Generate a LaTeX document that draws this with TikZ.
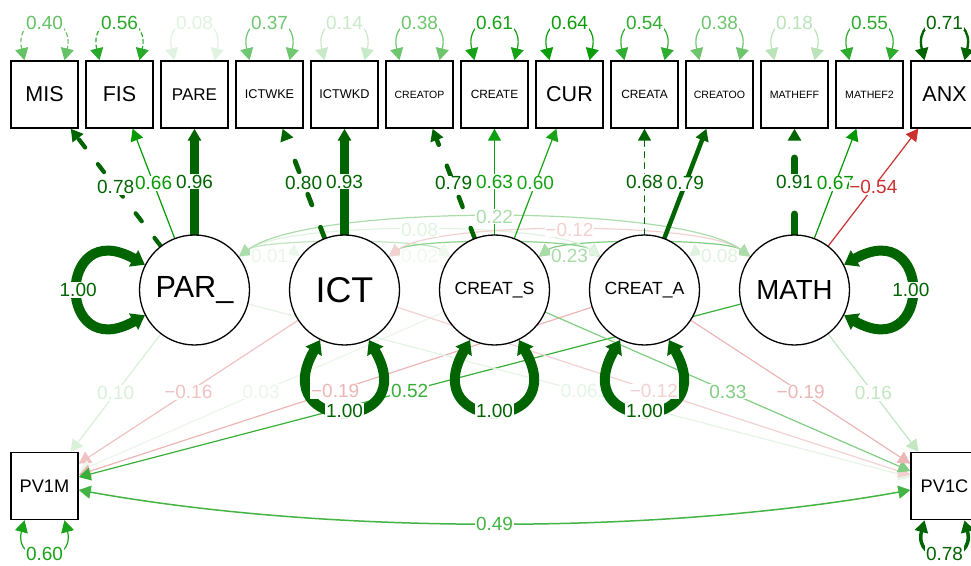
\documentclass[tikz,border=0pt]{standalone}
\usepackage{fontspec}
\setmainfont{Liberation Sans}
\usetikzlibrary{arrows.meta}
\pgfdeclarelayer{lablayer}
\pgfdeclarelayer{fg}
\pgfsetlayers{main,lablayer,fg}
\definecolor{gr}{RGB}{0,153,0}
\definecolor{rd}{RGB}{191,0,0}
\definecolor{dg}{RGB}{0,100,0}
\newcommand\fsz[1]{\fontsize{#1}{#1}\selectfont}
\newcommand\elab[3]{\node[lb=#2] at (#1) {#3};}
\tikzset{
  box/.style={draw=black, line width=1.4pt, fill=white, minimum width=67pt, minimum height=67pt, inner sep=0pt},
  lat/.style={draw=black, line width=1.3pt, fill=white, circle, minimum size=110pt, inner sep=0pt},
  ar1/.style={-{Triangle[length=12pt,width=13pt]}},
  ar2/.style={{Triangle[length=12pt,width=13pt]}-{Triangle[length=12pt,width=13pt]}},
  ar3/.style={{Triangle[length=13pt,width=18pt]}-{Triangle[length=13pt,width=18pt]}},
  pg/.style={draw=gr!#1!white, line width=1.2pt},
  ng/.style={draw=rd!#1!white, line width=1.2pt},
  dk/.style={draw=dg, line width=#1},
  lb/.style={fill=white, inner sep=0.8pt, text=#1, font=\fsz{19}},
}
\begin{document}
\begin{tikzpicture}[x=1pt,y=1pt,line cap=round]
\useasboundingbox (0,0) rectangle (971,565);
\fill[white] (0,0) rectangle (971,565);
\begin{pgfonlayer}{fg}
\node[box,font=\fsz{21.5}] (mis) at (44.5,470.5) {MIS};
\node[box,font=\fsz{21.5}] (fis) at (119.5,470.5) {FIS};
\node[box,font=\fsz{17}] (pare) at (194.5,470.5) {PARE};
\node[box,font=\fsz{12.7}] (ictwke) at (269.5,470.5) {ICTWKE};
\node[box,font=\fsz{12.7}] (ictwkd) at (344.5,470.5) {ICTWKD};
\node[box,font=\fsz{10.5}] (creatop) at (419.5,470.5) {CREATOP};
\node[box,font=\fsz{11.9}] (create) at (494.5,470.5) {CREATE};
\node[box,font=\fsz{21.5}] (cur) at (569.5,470.5) {CUR};
\node[box,font=\fsz{11.9}] (creata) at (644.5,470.5) {CREATA};
\node[box,font=\fsz{10.6}] (creatoo) at (719.5,470.5) {CREATOO};
\node[box,font=\fsz{10.6}] (matheff) at (794.5,470.5) {MATHEFF};
\node[box,font=\fsz{10.6}] (mathef2) at (869.5,470.5) {MATHEF2};
\node[box,font=\fsz{21.5}] (anx) at (944.5,470.5) {ANX};
\node[lat,font=\fsz{30.6}] (par) at (194.5,275) {PAR\_};
\node[lat,font=\fsz{35.8}] (ict) at (344.5,275) {ICT};
\node[lat,font=\fsz{17.6}] (cs) at (494.5,275) {CREAT\_S};
\node[lat,font=\fsz{17.6}] (ca) at (644.5,275) {CREAT\_A};
\node[lat,font=\fsz{27.6}] (math) at (794.5,275) {MATH};
\node[box,font=\fsz{18.2}] (pvm) at (44.5,79) {PV1M};
\node[box,font=\fsz{18.2}] (pvc) at (944.5,79) {PV1C};
\end{pgfonlayer}
% residual loops (top)
\draw[pg=60,ar2,dash pattern=on 4pt off 3pt] ([xshift=-20pt]mis.north) .. controls +(-12,50) and +(12,50) .. ([xshift=20pt]mis.north) coordinate[pos=.5] (r1);
\draw[pg=84,ar2,dash pattern=on 4pt off 3pt] ([xshift=-20pt]fis.north) .. controls +(-12,50) and +(12,50) .. ([xshift=20pt]fis.north) coordinate[pos=.5] (r2);
\draw[pg=12,ar2] ([xshift=-20pt]pare.north) .. controls +(-12,50) and +(12,50) .. ([xshift=20pt]pare.north) coordinate[pos=.5] (r3);
\draw[pg=55.5,ar2] ([xshift=-20pt]ictwke.north) .. controls +(-12,50) and +(12,50) .. ([xshift=20pt]ictwke.north) coordinate[pos=.5] (r4);
\draw[pg=21,ar2] ([xshift=-20pt]ictwkd.north) .. controls +(-12,50) and +(12,50) .. ([xshift=20pt]ictwkd.north) coordinate[pos=.5] (r5);
\draw[pg=57,ar2] ([xshift=-20pt]creatop.north) .. controls +(-12,50) and +(12,50) .. ([xshift=20pt]creatop.north) coordinate[pos=.5] (r6);
\draw[pg=91.5,ar2] ([xshift=-20pt]create.north) .. controls +(-12,50) and +(12,50) .. ([xshift=20pt]create.north) coordinate[pos=.5] (r7);
\draw[pg=96,ar2] ([xshift=-20pt]cur.north) .. controls +(-12,50) and +(12,50) .. ([xshift=20pt]cur.north) coordinate[pos=.5] (r8);
\draw[pg=81,ar2] ([xshift=-20pt]creata.north) .. controls +(-12,50) and +(12,50) .. ([xshift=20pt]creata.north) coordinate[pos=.5] (r9);
\draw[pg=57,ar2] ([xshift=-20pt]creatoo.north) .. controls +(-12,50) and +(12,50) .. ([xshift=20pt]creatoo.north) coordinate[pos=.5] (r10);
\draw[pg=27,ar2] ([xshift=-20pt]matheff.north) .. controls +(-12,50) and +(12,50) .. ([xshift=20pt]matheff.north) coordinate[pos=.5] (r11);
\draw[pg=82.5,ar2] ([xshift=-20pt]mathef2.north) .. controls +(-12,50) and +(12,50) .. ([xshift=20pt]mathef2.north) coordinate[pos=.5] (r12);
\draw[dk=2.4pt,ar2] ([xshift=-20pt]anx.north) .. controls +(-12,50) and +(12,50) .. ([xshift=20pt]anx.north) coordinate[pos=.5] (r13);
% residual loops (bottom)
\draw[pg=90,ar2] ([xshift=-20pt]pvm.south) .. controls +(-12,-45) and +(12,-45) .. ([xshift=20pt]pvm.south) coordinate[pos=.5] (r14);
\draw[dk=3.5pt,ar2] ([xshift=-20pt]pvc.south) .. controls +(-12,-45) and +(12,-45) .. ([xshift=20pt]pvc.south) coordinate[pos=.5] (r15);
% covariance PV1M - PV1C
\draw[pg=73.5,ar2,line width=1.5pt] ([yshift=-4pt]pvm.east) .. controls +(250,-45) and +(-250,-45) .. ([yshift=-4pt]pvc.west) coordinate[pos=.5] (q);
% covariances among latents
\draw[pg=25,ar2] (par) .. controls +(68.6,51.6) and +(-68.6,51.6) .. (cs);
\draw[pg=45,ar2] (ict) .. controls +(68.6,51.6) and +(-68.6,51.6) .. (ca);
\draw[pg=50,ar2] (cs) .. controls +(68.6,51.6) and +(-68.6,51.6) .. (math);
\draw[pg=8,ar2] (par) .. controls +(45.4,34.1) and +(-45.4,34.1) .. (ict) coordinate[pos=.5] (c1);
\draw[pg=6,ar2] (ict) .. controls +(45.4,34.1) and +(-45.4,34.1) .. (cs) coordinate[pos=.5] (c2);
\draw[pg=34.5,ar2] (cs) .. controls +(45.4,34.1) and +(-45.4,34.1) .. (ca) coordinate[pos=.5] (c3);
\draw[pg=12,ar2] (ca) .. controls +(45.4,34.1) and +(-45.4,34.1) .. (math) coordinate[pos=.5] (c4);
\draw[pg=12,ar2] (par) .. controls +(91.6,68.9) and +(-91.6,68.9) .. (ca) coordinate[pos=.5] (c5);
\draw[ng=18,ar2] (ict) .. controls +(91.6,68.9) and +(-91.6,68.9) .. (math) coordinate[pos=.5] (c6);
\draw[pg=33,ar2] (par) .. controls +(114.8,86.3) and +(-114.8,86.3) .. (math) coordinate[pos=.5] (c7);
% regressions
\draw[pg=15,ar1] (par) -- (pvm) coordinate[pos=.5] (p1);
\draw[ng=24,ar1] (ict) -- (pvm) coordinate[pos=.5] (p2);
\draw[pg=8,ar1] (cs) -- (pvm) coordinate[pos=.5] (p3);
\draw[ng=28.5,ar1] (ca) -- (pvm) coordinate[pos=.5] (p4);
\draw[pg=78,ar1] (math) -- (pvm) coordinate[pos=.5] (p5);
\draw[pg=10,ar1] (par) -- (pvc) coordinate[pos=.5] (p6);
\draw[ng=18,ar1] (ict) -- (pvc) coordinate[pos=.5] (p7);
\draw[pg=49.5,ar1] (cs) -- (pvc) coordinate[pos=.5] (p8);
\draw[ng=28.5,ar1] (ca) -- (pvc) coordinate[pos=.5] (p9);
\draw[pg=24,ar1] (math) -- (pvc) coordinate[pos=.5] (p10);
% loadings
\draw[dk=4.2pt,ar1,dash pattern=on 10pt off 21pt] (par) -- (mis) coordinate[pos=.5] (l1);
\draw[pg=99,ar1] (par) -- (fis) coordinate[pos=.5] (l2);
\draw[dk=9pt,ar1] (par) -- (pare) coordinate[pos=.5] (l3);
\draw[dk=4.8pt,ar1,dash pattern=on 11.5pt off 24pt] (ict) -- (ictwke) coordinate[pos=.5] (l4);
\draw[dk=8.2pt,ar1] (ict) -- (ictwkd) coordinate[pos=.5] (l5);
\draw[dk=4.5pt,ar1,dash pattern=on 10.8pt off 22.5pt] (cs) -- (creatop) coordinate[pos=.5] (l6);
\draw[pg=94.5,ar1] (cs) -- (create) coordinate[pos=.5] (l7);
\draw[pg=90,ar1] (cs) -- (cur) coordinate[pos=.5] (l8);
\draw[dk=1.6pt,ar1,dash pattern=on 5.4pt off 5.6pt] (ca) -- (creata) coordinate[pos=.5] (l9);
\draw[dk=4.5pt,ar1] (ca) -- (creatoo) coordinate[pos=.5] (l10);
\draw[dk=7.6pt,ar1,dash pattern=on 20pt off 36pt] (math) -- (matheff) coordinate[pos=.5] (l11);
\draw[pg=100,ar1] (math) -- (mathef2) coordinate[pos=.5] (l12);
\draw[ng=81,ar1] (math) -- (anx) coordinate[pos=.5] (l13);
% latent variances
\draw[dk=10pt,ar3] (par.153) .. controls +(-89,50) and +(-89,-50) .. (par.207) coordinate[pos=.5] (v1);
\draw[dk=10pt,ar3] (ict.244) .. controls +(-54,-94) and +(54,-94) .. (ict.296) coordinate[pos=.5] (v2);
\draw[dk=10pt,ar3] (cs.244) .. controls +(-54,-94) and +(54,-94) .. (cs.296) coordinate[pos=.5] (v3);
\draw[dk=10pt,ar3] (ca.244) .. controls +(-54,-94) and +(54,-94) .. (ca.296) coordinate[pos=.5] (v4);
\draw[dk=10pt,ar3] (math.27) .. controls +(89,50) and +(89,-50) .. (math.-27) coordinate[pos=.5] (v5);
% labels
\begin{pgfonlayer}{lablayer}
\elab{r1}{gr!60!white}{0.40}
\elab{r2}{gr!84!white}{0.56}
\elab{r3}{gr!12!white}{0.08}
\elab{r4}{gr!55.5!white}{0.37}
\elab{r5}{gr!21!white}{0.14}
\elab{r6}{gr!57!white}{0.38}
\elab{r7}{gr!91.5!white}{0.61}
\elab{r8}{gr!96!white}{0.64}
\elab{r9}{gr!81!white}{0.54}
\elab{r10}{gr!57!white}{0.38}
\elab{r11}{gr!27!white}{0.18}
\elab{r12}{gr!82.5!white}{0.55}
\elab{r13}{dg}{0.71}
\elab{r14}{gr!90!white}{0.60}
\elab{r15}{dg}{0.78}
\elab{q}{gr!73.5!white}{0.49}
\elab{c1}{gr!8!white}{0.01}
\elab{c2}{gr!6!white}{0.02}
\elab{c3}{gr!34.5!white}{0.23}
\elab{c4}{gr!12!white}{0.08}
\elab{c5}{gr!12!white}{0.08}
\elab{c6}{rd!18!white}{−0.12}
\elab{c7}{gr!33!white}{0.22}
\elab{p1}{gr!15!white}{0.10}
\elab{p2}{rd!24!white}{−0.16}
\elab{p3}{gr!8!white}{0.03}
\elab{p4}{rd!28.5!white}{−0.19}
\elab{p5}{gr!78!white}{0.52}
\elab{p6}{gr!10!white}{0.06}
\elab{p7}{rd!18!white}{−0.12}
\elab{p8}{gr!49.5!white}{0.33}
\elab{p9}{rd!28.5!white}{−0.19}
\elab{p10}{gr!24!white}{0.16}
\elab{l1}{dg}{0.78}
\elab{l2}{gr!99!white}{0.66}
\elab{l3}{dg}{0.96}
\elab{l4}{dg}{0.80}
\elab{l5}{dg}{0.93}
\elab{l6}{dg}{0.79}
\elab{l7}{gr!94.5!white}{0.63}
\elab{l8}{gr!90!white}{0.60}
\elab{l9}{dg}{0.68}
\elab{l10}{dg}{0.79}
\elab{l11}{dg}{0.91}
\elab{l12}{gr}{0.67}
\elab{l13}{rd!81!white}{−0.54}
\elab{v1}{dg}{1.00}
\elab{v2}{dg}{1.00}
\elab{v3}{dg}{1.00}
\elab{v4}{dg}{1.00}
\elab{v5}{dg}{1.00}
\end{pgfonlayer}
\end{tikzpicture}
\end{document}
